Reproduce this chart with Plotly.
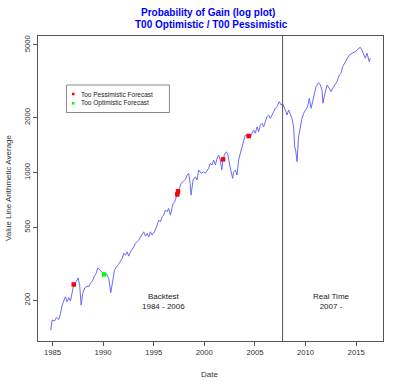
import plotly.graph_objects as go

# Value Line Arithmetic Average
years = [1984.83, 1984.97, 1985.20, 1985.39, 1985.62, 1985.76, 1985.96, 1986.12, 1986.28, 1986.45,
         1986.61, 1986.78, 1986.94, 1987.10, 1987.34, 1987.54, 1987.69, 1987.83, 1987.99, 1988.19,
         1988.43, 1988.58, 1988.75, 1988.98, 1989.15, 1989.31, 1989.47, 1989.64, 1989.81, 1990.10,
         1990.33, 1990.56, 1990.76, 1990.95, 1991.12, 1991.32, 1991.54, 1991.88, 1992.04, 1992.21,
         1992.37, 1992.53, 1992.70, 1993.03, 1993.19, 1993.52, 1993.69, 1993.85, 1994.01, 1994.18,
         1994.35, 1994.51, 1994.67, 1994.84, 1995.07, 1995.34, 1995.49, 1995.66, 1995.83, 1995.99,
         1996.16, 1996.32, 1996.48, 1996.65, 1996.75, 1996.92, 1997.07, 1997.21, 1997.37, 1997.54,
         1997.70, 1997.90, 1998.13, 1998.30, 1998.45, 1998.60, 1998.69, 1998.89, 1999.12, 1999.28,
         1999.44, 1999.68, 1999.94, 2000.10, 2000.27, 2000.43, 2000.60, 2000.77, 2000.92, 2001.09,
         2001.26, 2001.42, 2001.58, 2001.72, 2001.85, 2001.98, 2002.18, 2002.34, 2002.50, 2002.67,
         2002.80, 2002.90, 2003.07, 2003.23, 2003.39, 2003.56, 2003.73, 2003.88, 2004.05, 2004.38,
         2004.55, 2004.71, 2004.87, 2005.04, 2005.21, 2005.37, 2005.53, 2005.70, 2005.86, 2006.03,
         2006.19, 2006.35, 2006.52, 2006.69, 2006.85, 2007.01, 2007.18, 2007.41, 2007.58, 2007.73,
         2008.00, 2008.17, 2008.33, 2008.49, 2008.66, 2008.82, 2008.92, 2009.02, 2009.16, 2009.31,
         2009.48, 2009.65, 2009.81, 2010.04, 2010.20, 2010.37, 2010.54, 2010.70, 2010.86, 2011.03,
         2011.29, 2011.46, 2011.62, 2011.72, 2011.88, 2012.12, 2012.34, 2012.51, 2012.77, 2013.10,
         2013.33, 2013.50, 2013.66, 2013.83, 2014.09, 2014.32, 2014.59, 2014.91, 2015.14, 2015.40,
         2015.57, 2015.73, 2015.90, 2016.07, 2016.29, 2016.39]
values = [137, 156, 154, 161, 157, 166, 188, 200, 209, 196,
          207, 198, 222, 244, 252, 265, 242, 188, 218, 234,
          239, 237, 247, 258, 272, 280, 301, 295, 286, 277,
          280, 263, 220, 263, 292, 305, 315, 339, 361, 353,
          368, 349, 368, 392, 410, 427, 445, 455, 474, 449,
          465, 445, 474, 455, 474, 516, 550, 538, 573, 585,
          624, 610, 637, 585, 624, 679, 692, 737, 776, 820,
          873, 891, 919, 970, 991, 870, 753, 911, 949, 911,
          1033, 991, 1011, 991, 1033, 1055, 1124, 1100, 1172, 1100,
          1197, 1248, 1172, 1033, 1182, 1248, 1301, 1248, 1100, 1011,
          930, 1011, 1033, 970, 1172, 1275, 1386, 1508, 1607, 1586,
          1561, 1641, 1711, 1641, 1783, 1675, 1822, 1862, 1783, 1900,
          2024, 2067, 1983, 2067, 2156, 2250, 2296, 2445, 2345, 2396,
          2202, 2067, 2202, 2067, 1983, 1783, 1386, 1330, 1147, 1573,
          1783, 1983, 2113, 2202, 2296, 2552, 2250, 2445, 2719, 2954,
          3107, 3019, 2835, 2396, 2661, 3019, 2896, 2774, 2954, 3147,
          3425, 3499, 3803, 3969, 4227, 4407, 4502, 4594, 4735, 4856,
          4694, 4407, 4227, 4502, 4050, 4227]

# Forecast signals
pess_years = [1987.10, 1997.33, 1997.40, 2001.85, 2004.38]
pess_values = [244, 760, 790, 1182, 1586]
opt_years = [1990.10]
opt_values = [277]

split_year = 2007.73
x_ticks = [1985, 1990, 1995, 2000, 2005, 2010, 2015]
y_ticks = [200, 500, 1000, 2000, 5000]

FONT = "Liberation Sans, Arial, sans-serif"
BOX = "#555555"
TXT = "#333333"

# plot area in pixels
L, R, T, B = 37.5, 382.7, 36.0, 341.0
PW, PH = R - L, B - T


def px(x):
    return (x - L) / PW


def py(y):
    return (B - y) / PH


def label(fig, text, x, y, size, color, xanchor="center", **kw):
    fig.add_annotation(text=text, xref="paper", yref="paper", x=px(x), y=py(y),
                       xanchor=xanchor, yanchor="middle", showarrow=False,
                       font=dict(family=FONT, size=size, color=color), **kw)


fig = go.Figure()
fig.add_trace(go.Scatter(x=years, y=values, mode="lines",
                         line=dict(color="#6a6aff", width=1), showlegend=False, hoverinfo="skip"))
fig.add_trace(go.Scatter(x=pess_years, y=pess_values, mode="markers",
                         marker=dict(color="#ff0000", size=4.5, symbol="square", line=dict(width=0)),
                         showlegend=False))
fig.add_trace(go.Scatter(x=opt_years, y=opt_values, mode="markers",
                         marker=dict(color="#00ff00", size=4.5, symbol="square", line=dict(width=0)),
                         showlegend=False))

fig.add_shape(type="line", x0=split_year, x1=split_year, y0=0, y1=1, xref="x", yref="paper",
              line=dict(color=BOX, width=1))

# manual legend
fig.add_shape(type="rect", xref="paper", yref="paper",
              x0=px(66), x1=px(169), y0=py(112.5), y1=py(85),
              line=dict(color="#888888", width=1), fillcolor="white")
for i, (lbl, col) in enumerate([("Too Pessimistic Forecast", "#ff0000"),
                                 ("Too Optimistic Forecast", "#00ff00")]):
    yy = 94 + i * 9.3
    fig.add_shape(type="rect", xref="paper", yref="paper",
                  x0=px(71.5), x1=px(74), y0=py(yy + 1.3), y1=py(yy - 1.3),
                  line=dict(width=0), fillcolor=col)
    label(fig, lbl, 78.5, yy, 6.5, "#222222", xanchor="left")

# period labels
label(fig, "Backtest<br>1984 - 2006", 163, 301, 8, "#222222", align="center")
label(fig, "Real Time<br>2007 -", 331, 301, 8, "#222222", align="center")

# titles
label(fig, "<b>Probability of Gain (log plot)</b>", 208, 12.5, 10, "#0000ff")
label(fig, "<b>T00 Optimistic / T00 Pessimistic</b>", 211, 24, 10, "#0000ff")

# axis titles
label(fig, "Date", 209, 374, 8, TXT)
label(fig, "Value Line Arithmetic Average", 7.5, 188, 8, TXT, textangle=-90)

fig.update_layout(
    width=400, height=388,
    margin=dict(l=L, r=400 - R, t=T, b=388 - B),
    paper_bgcolor="white", plot_bgcolor="white",
    showlegend=False,
    xaxis=dict(range=[1983.57, 2017.65], tickvals=x_ticks, ticks="outside", ticklen=4,
               tickcolor=BOX, showline=True, linecolor=BOX, linewidth=1, mirror=True,
               showgrid=False, zeroline=False, automargin=False,
               tickfont=dict(family=FONT, size=7.7, color=TXT)),
    yaxis=dict(type="log", range=[2.078, 3.748], tickvals=y_ticks, ticktext=[str(v) for v in y_ticks],
               ticks="outside", ticklen=4, tickcolor=BOX, tickangle=-90,
               showline=True, linecolor=BOX, linewidth=1, mirror=True,
               showgrid=False, zeroline=False, automargin=False,
               tickfont=dict(family=FONT, size=7.7, color=TXT)),
)

fig.write_html("out.html", config={"displayModeBar": False},
               post_script="document.body.style.margin='0';document.body.style.overflow='hidden';")
